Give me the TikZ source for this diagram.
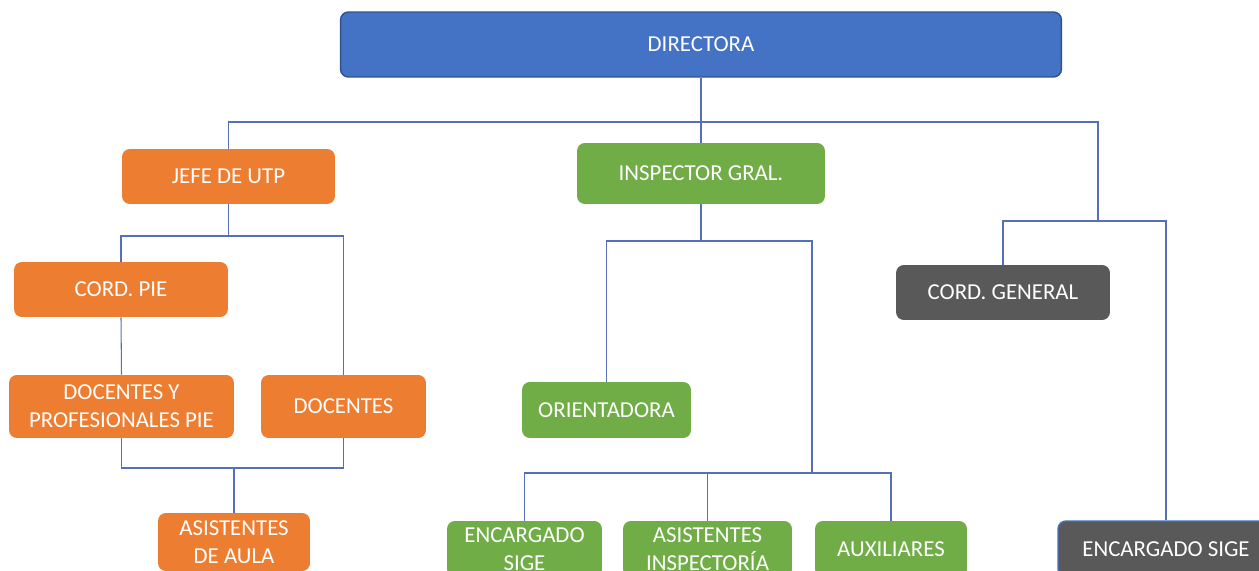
\documentclass[tikz,border=0pt]{standalone}
\usepackage{fontspec}
\setmainfont{Carlito}
\definecolor{dirblue}{HTML}{4472C4}
\definecolor{dirline}{HTML}{2F528F}
\definecolor{utporange}{HTML}{ED7D31}
\definecolor{inspgreen}{HTML}{70AD47}
\definecolor{cordgray}{HTML}{595959}
\definecolor{linkblue}{HTML}{5470B8}
\begin{document}
\begin{tikzpicture}[x=0.02cm,y=-0.02cm,
    box/.style={rounded corners=4.5pt,text=white,inner sep=0pt,align=center,
      font=\fontsize{13}{16}\selectfont},
    utp/.style={box,fill=utporange},
    insp/.style={box,fill=inspgreen},
    cord/.style={box,fill=cordgray},
    link/.style={draw=linkblue,line width=0.6pt}]
  \useasboundingbox (0,0) rectangle (1259,571);
  \clip (0,0) rectangle (1259,571);
  \node[box,fill=dirblue,draw=dirline,line width=0.8pt,minimum width=14.42cm,minimum height=1.3cm] (dir) at (701,44.5) {DIRECTORA};
  \node[utp,minimum width=4.26cm,minimum height=1.1cm] (jefe) at (228.5,176.5) {JEFE DE UTP};
  \node[insp,minimum width=4.96cm,minimum height=1.22cm] (insp) at (701,173.5) {INSPECTOR GRAL.};
  \node[cord,minimum width=4.28cm,minimum height=1.1cm] (cordg) at (1003,292.5) {CORD. GENERAL};
  \node[cord,draw=dirblue,line width=0.8pt,minimum width=4.32cm,minimum height=1.12cm] (encr) at (1166,549) {ENCARGADO SIGE};
  \node[utp,minimum width=4.28cm,minimum height=1.1cm] (cpie) at (121,289.5) {CORD. PIE};
  \node[utp,minimum width=4.5cm,minimum height=1.26cm] (dprof) at (121.5,406.5) {DOCENTES Y\\PROFESIONALES PIE};
  \node[utp,minimum width=3.3cm,minimum height=1.26cm] (docs) at (343.5,406.5) {DOCENTES};
  \node[utp,minimum width=3.04cm,minimum height=1.16cm] (asist) at (234,542) {ASISTENTES\\DE AULA};
  \node[insp,minimum width=3.38cm,minimum height=1.12cm] (orient) at (606.5,410) {ORIENTADORA};
  \node[insp,minimum width=3.1cm,minimum height=1.12cm] (encg) at (524.5,549) {ENCARGADO\\SIGE};
  \node[insp,minimum width=3.38cm,minimum height=1.12cm] (asinsp) at (707.5,549) {ASISTENTES\\INSPECTORÍA};
  \node[insp,minimum width=3.04cm,minimum height=1.12cm] (aux) at (891,549) {AUXILIARES};
  \coordinate (topR) at (1098,122); \coordinate (rj) at (1098,221);
  \coordinate (rbar) at (1166,221); \coordinate (jbar) at (228.5,236);
  \coordinate (abar) at (234,468); \coordinate (ibar) at (701,241);
  \coordinate (ilow) at (812,473);
  \draw[link] (dir.south) -- (insp.north);
  \draw[link] (jefe.north) |- (topR) -- (rj);
  \draw[link] (cordg.north) |- (rbar) -- (encr.north);
  \draw[link] (jefe.south) -- (jbar);
  \draw[link] (cpie.north) |- (jbar) -| (docs.north);
  \draw[link] (cpie.south) -- (dprof.north);
  \draw[link] (dprof.south) |- (abar) -| (docs.south);
  \draw[link] (abar) -- (asist.north);
  \draw[link] (insp.south) -- (ibar);
  \draw[link] (orient.north) |- (ibar) -| (ilow);
  \draw[link] (encg.north) |- (ilow) -| (aux.north);
  \draw[link] (asinsp.north) -- (asinsp.north |- ilow);
\end{tikzpicture}
\end{document}
